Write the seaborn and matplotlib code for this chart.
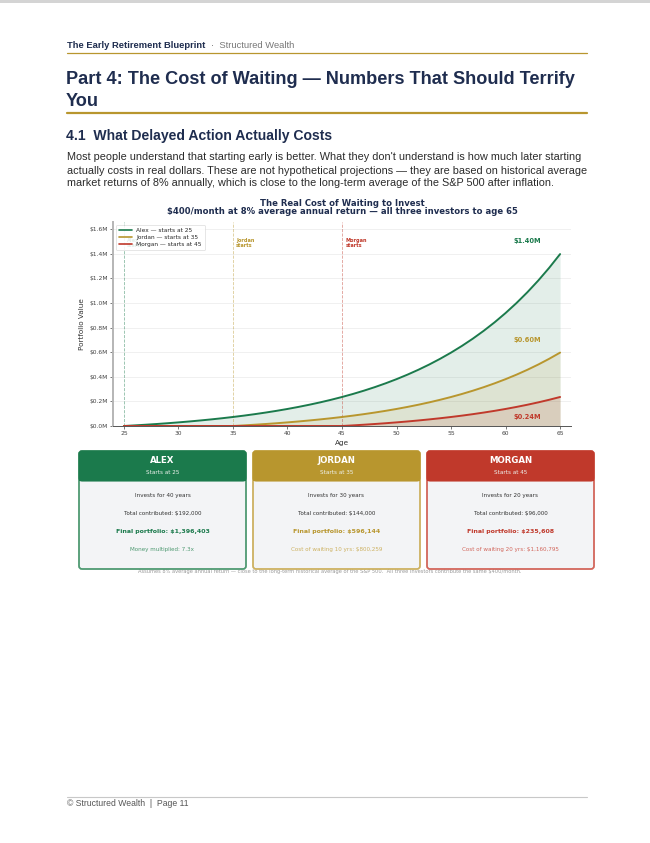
import numpy as np
import pandas as pd
import matplotlib
matplotlib.use("Agg")
import matplotlib.pyplot as plt
from matplotlib.patches import FancyBboxPatch, Rectangle
import seaborn as sns

# Valores del gráfico (miles de dólares, por edad)
ages = list(range(25, 66))
alex_k = [0, 5.0, 10.4, 16.2, 22.5, 29.4, 36.8, 44.9, 53.6, 63.0, 73.2, 84.2, 96.2,
          109.2, 123.2, 138.4, 154.9, 172.7, 192.0, 213.0, 235.6, 260.1, 286.7,
          315.5, 346.7, 380.4, 417.0, 456.6, 499.4, 545.9, 596.1, 650.6, 709.6,
          773.5, 842.6, 917.6, 998.7, 1086.6, 1181.7, 1284.8, 1396.4]
jordan_k = [0] * 10 + [0, 5.0, 10.4, 16.2, 22.5, 29.4, 36.8, 44.9, 53.6, 63.0, 73.2,
                      84.2, 96.2, 109.2, 123.2, 138.4, 154.9, 172.7, 192.0, 213.0,
                      235.6, 260.1, 286.7, 315.5, 346.7, 380.4, 417.0, 456.6, 499.4,
                      545.9, 596.1]
morgan_k = [0] * 20 + [0, 5.0, 10.4, 16.2, 22.5, 29.4, 36.8, 44.9, 53.6, 63.0, 73.2,
                      84.2, 96.2, 109.2, 123.2, 138.4, 154.9, 172.7, 192.0, 213.0,
                      235.6]
names = ["Alex", "Jordan", "Morgan"]
start_ages = [25, 35, 45]
legend_labels = ["Alex — starts at 25", "Jordan — starts at 35", "Morgan — starts at 45"]
end_labels = ["$1.40M", "$0.60M", "$0.24M"]
years_invested = [40, 30, 20]
contributed = ["$192,000", "$144,000", "$96,000"]
final_values = ["$1,396,403", "$596,144", "$235,608"]
last_lines = ["Money multiplied: 7.3x", "Cost of waiting 10 yrs: $800,259",
              "Cost of waiting 20 yrs: $1,160,795"]

GREEN = "#1b7a4c"
GOLD = "#b8962e"
RED = "#c0392b"
NAVY = "#1f2d4f"
colors = [GREEN, GOLD, RED]
light = ["#4f9a72", "#cdb161", "#d2665b"]

sns.set_theme(style="whitegrid")
plt.rcParams['font.family'] = ['DejaVu Sans']
PAGE_FONT = ['Liberation Sans', 'DejaVu Sans']

fig = plt.figure(figsize=(6.5, 8.43), dpi=100)
fig.patch.set_facecolor("white")

# capa de página en coordenadas de píxel
page = fig.add_axes([0, 0, 1, 1])
page.set_xlim(0, 650)
page.set_ylim(843, 0)
page.axis("off")
page.set_facecolor("none")

page.add_patch(Rectangle((0, 0), 650, 2.5, color="#d4d4d4", lw=0))
page.text(67, 45, "The Early Retirement Blueprint", family=PAGE_FONT, fontsize=6.75,
          fontweight="bold", color=NAVY, va="center")
page.text(211, 45, "·  Structured Wealth", family=PAGE_FONT, fontsize=6.75,
          color="#777777", va="center")
page.plot([67, 587], [52.5, 52.5], color=GOLD, lw=0.9)
page.text(66, 80, "Part 4: The Cost of Waiting — Numbers That Should Terrify",
          family=PAGE_FONT, fontsize=13.1, fontweight="bold", color=NAVY, va="center")
page.text(66, 101, "You", family=PAGE_FONT, fontsize=13.1, fontweight="bold",
          color=NAVY, va="center")
page.plot([67, 587], [112.5, 112.5], color=GOLD, lw=1.6)
page.text(66, 136, "4.1  What Delayed Action Actually Costs", family=PAGE_FONT,
          fontsize=10.1, fontweight="bold", color=NAVY, va="center")
para = ["Most people understand that starting early is better. What they don't understand is how much later starting",
        "actually costs in real dollars. These are not hypothetical projections — they are based on historical average",
        "market returns of 8% annually, which is close to the long-term average of the S&P 500 after inflation."]
for i, line in enumerate(para):
    page.text(67, 157.5 + i * 13, line, family=PAGE_FONT, fontsize=7.85,
              color="#2b2b2b", va="center")

page.text(342, 203, "The Real Cost of Waiting to Invest", fontsize=6.1,
          fontweight="bold", color=NAVY, ha="center", va="center")
page.text(342, 212, "$400/month at 8% average annual return — all three investors to age 65",
          fontsize=6.1, fontweight="bold", color=NAVY, ha="center", va="center")

# gráfico
ax = fig.add_axes([113 / 650, 1 - 426 / 843, 458 / 650, 204 / 843])
df = pd.DataFrame({
    "Age": ages * 3,
    "Value": [v * 1000 for v in alex_k + jordan_k + morgan_k],
    "Investor": sum([[lab] * len(ages) for lab in legend_labels], []),
})
sns.lineplot(data=df, x="Age", y="Value", hue="Investor", palette=colors,
             linewidth=1.4, ax=ax)
for lab, c in zip(legend_labels, colors):
    sub = df[df["Investor"] == lab]
    ax.fill_between(sub["Age"], 0, sub["Value"], color=c, alpha=0.12, lw=0)

for name, sa, c in zip(names, start_ages, colors):
    ax.axvline(sa, color=c, ls="--", lw=0.6, alpha=0.5, zorder=1)
    ax.text(sa + 0.3, 1.53e6, f"{name}\nstarts", fontsize=3.6, fontweight="bold",
            color=c, va="top", linespacing=1.2, zorder=1)

end_y = [1.50e6, 0.70e6, 0.07e6]
for lab, y, c in zip(end_labels, end_y, colors):
    ax.text(62, y, lab, fontsize=4.8, fontweight="bold", color=c, ha="center",
            va="center")

ax.set_xlim(24, 66)
ax.set_ylim(0, 1.657e6)
ax.set_xticks([25, 30, 35, 40, 45, 50, 55, 60, 65])
ax.set_yticks(np.arange(0, 1.61e6, 0.2e6))
ax.yaxis.set_major_formatter(lambda v, p: f"${v / 1e6:.1f}M")
ax.tick_params(labelsize=4.3, colors="#444444", length=2, width=0.5, pad=1.5,
               left=True, bottom=True)
ax.grid(axis="x", visible=False)
ax.grid(axis="y", color="#eeeeee", lw=0.6)
ax.set_xlabel("Age", fontsize=5.2, color="#333333", labelpad=3)
ax.set_ylabel("Portfolio Value", fontsize=5.2, color="#333333", labelpad=3)
for s in ["top", "right"]:
    ax.spines[s].set_visible(False)
ax.spines["left"].set_color("#b5b5b5")
ax.spines["left"].set_linewidth(1.4)
ax.spines["bottom"].set_color("#555555")
ax.spines["bottom"].set_linewidth(0.7)
leg = ax.legend(loc="upper left", fontsize=4.2, frameon=True, handlelength=2.2,
                borderpad=0.5, labelspacing=0.35, fancybox=True)
leg.get_frame().set_linewidth(0.4)
leg.get_frame().set_edgecolor("#cccccc")
leg.get_frame().set_alpha(0.88)
leg.set_zorder(5)
for h in leg.get_lines():
    h.set_linewidth(1.2)

# nota al pie del gráfico (queda tapada por las tarjetas)
page.text(330, 571, "Assumes 8% average annual return — close to the long-term historical "
          "average of the S&P 500.  All three investors contribute the same $400/month.",
          fontsize=3.7, color="#9a9a9a", ha="center", va="center", zorder=1)

# tarjetas
card_x = [79, 253, 427]
card_w = 167
top, bottom, head = 451, 569, 30
for i in range(3):
    x0 = card_x[i]
    c = colors[i]
    page.add_patch(FancyBboxPatch((x0, top), card_w, bottom - top,
                                  boxstyle="round,pad=0,rounding_size=3",
                                  facecolor="#f3f4f6", edgecolor=light[i], lw=1.3,
                                  zorder=3))
    page.add_patch(FancyBboxPatch((x0, top), card_w, head,
                                  boxstyle="round,pad=0,rounding_size=3",
                                  facecolor=c, edgecolor=c, lw=0.8, zorder=4))
    page.add_patch(Rectangle((x0, top + head - 6), card_w, 6, facecolor=c,
                             edgecolor="none", zorder=4))
    cx = x0 + card_w / 2
    page.text(cx, 460.5, names[i].upper(), fontsize=6.2, fontweight="bold",
              color="white", ha="center", va="center", zorder=5)
    page.text(cx, 472.5, f"Starts at {start_ages[i]}", fontsize=4.1,
              color="#eef2ee", ha="center", va="center", zorder=5)
    page.text(cx, 495, f"Invests for {years_invested[i]} years", fontsize=4.1,
              color="#333333", ha="center", va="center", zorder=5)
    page.text(cx, 513.5, f"Total contributed: {contributed[i]}", fontsize=4.1,
              color="#333333", ha="center", va="center", zorder=5)
    page.text(cx, 531.5, f"Final portfolio: {final_values[i]}", fontsize=4.5,
              fontweight="bold", color=c, ha="center", va="center", zorder=5)
    page.text(cx, 549.5, last_lines[i], fontsize=4.1, color=light[i],
              ha="center", va="center", zorder=5)

# pie de página
page.plot([67, 587], [796.5, 796.5], color="#c8c8c8", lw=0.8)
page.text(67, 803, "© Structured Wealth  |  Page 11", family=PAGE_FONT, fontsize=6.2,
          color="#555555", va="center")

fig.savefig("out.png", dpi=100, facecolor="white")
